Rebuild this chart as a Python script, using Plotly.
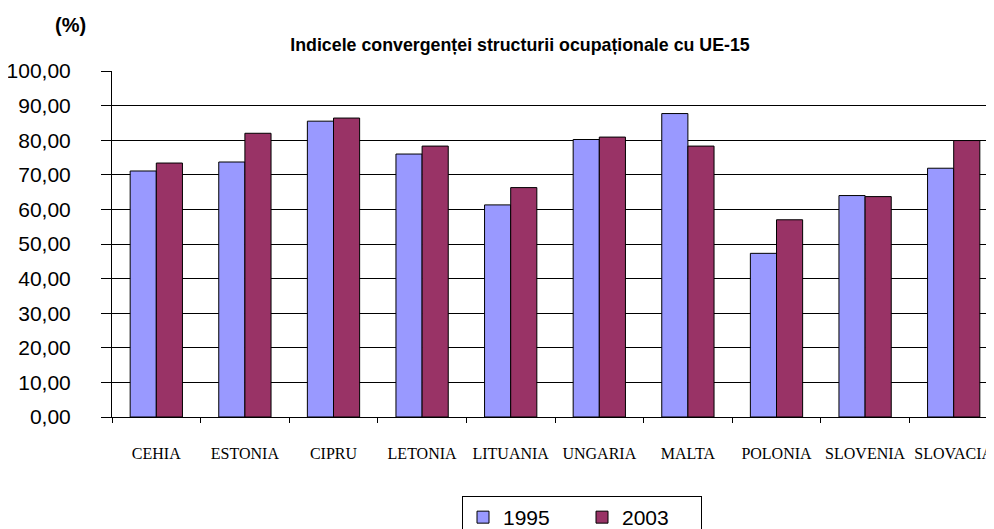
import plotly.graph_objects as go

categories = ["CEHIA", "ESTONIA", "CIPRU", "LETONIA", "LITUANIA",
              "UNGARIA", "MALTA", "POLONIA", "SLOVENIA", "SLOVACIA"]
values_1995 = [71.1, 73.7, 85.5, 76.0, 61.3, 80.2, 87.7, 47.3, 64.0, 71.9]
values_2003 = [73.4, 82.0, 86.4, 78.3, 66.3, 80.9, 78.3, 57.0, 63.7, 79.9]
y_ticks = [0, 10, 20, 30, 40, 50, 60, 70, 80, 90, 100]
y_tick_labels = ["0,00", "10,00", "20,00", "30,00", "40,00", "50,00",
                 "60,00", "70,00", "80,00", "90,00", "100,00"]

# the page body has an 8px margin, so figure coords = screen coords - 8
OFF = 8
W, H = 994, 529
L, T = 112 - OFF, 71 - OFF
B = H - (417 - OFF)
R = W - (998 - OFF)
PW, PH = W - L - R, H - T - B
plot_bottom = T + PH

fig = go.Figure()
fig.add_trace(go.Bar(x=categories, y=values_1995, name="1995",
                     marker=dict(color="#9999FF", line=dict(color="black", width=1))))
fig.add_trace(go.Bar(x=categories, y=values_2003, name="2003",
                     marker=dict(color="#993366", line=dict(color="black", width=1))))

fig.update_layout(
    width=W, height=H,
    paper_bgcolor="white", plot_bgcolor="white",
    margin=dict(l=L, r=R, t=T, b=B, autoexpand=False),
    barmode="group", bargap=0.41, bargroupgap=0,
    font=dict(family="Arial, Liberation Sans", color="black"),
    title=dict(text="<b>Indicele convergenței structurii ocupaționale cu UE-15</b>",
               font=dict(size=17.8, family="Arial, Liberation Sans", color="black"),
               x=(520 - OFF) / W, xanchor="center", xref="container",
               y=1 - (45 - OFF) / H, yanchor="middle", yref="container"),
    showlegend=True,
    legend=dict(orientation="h", xref="paper", x=(462 - OFF - L) / PW, xanchor="left",
                yref="paper", y=(plot_bottom - (496 - OFF)) / PH, yanchor="top",
                bordercolor="black", borderwidth=1, bgcolor="white",
                font=dict(size=21, family="Arial, Liberation Sans"),
                entrywidth=74, entrywidthmode="pixels", itemwidth=30),
    annotations=[dict(text="<b>(%)</b>", xref="paper", yref="paper",
                      x=(70 - OFF - L) / PW, y=(plot_bottom - (25 - OFF)) / PH,
                      xanchor="center", yanchor="middle", showarrow=False,
                      font=dict(size=20, family="Arial, Liberation Sans"))],
)

fig.update_yaxes(range=[0, 100], tickvals=y_ticks, ticktext=y_tick_labels,
                 showgrid=True, gridcolor="black", gridwidth=1,
                 showline=True, linecolor="black", linewidth=1,
                 ticks="outside", ticklen=10, tickcolor="black",
                 ticklabelstandoff=26,
                 tickfont=dict(size=21, family="Arial, Liberation Sans"),
                 zeroline=False)
fig.update_xaxes(showline=True, linecolor="black", linewidth=1,
                 ticks="outside", ticklen=5, tickcolor="black",
                 tickson="boundaries", tickangle=0,
                 ticklabelstandoff=22,
                 tickfont=dict(size=16, family="Times New Roman, Liberation Serif"))

fig.write_html("out.html")
